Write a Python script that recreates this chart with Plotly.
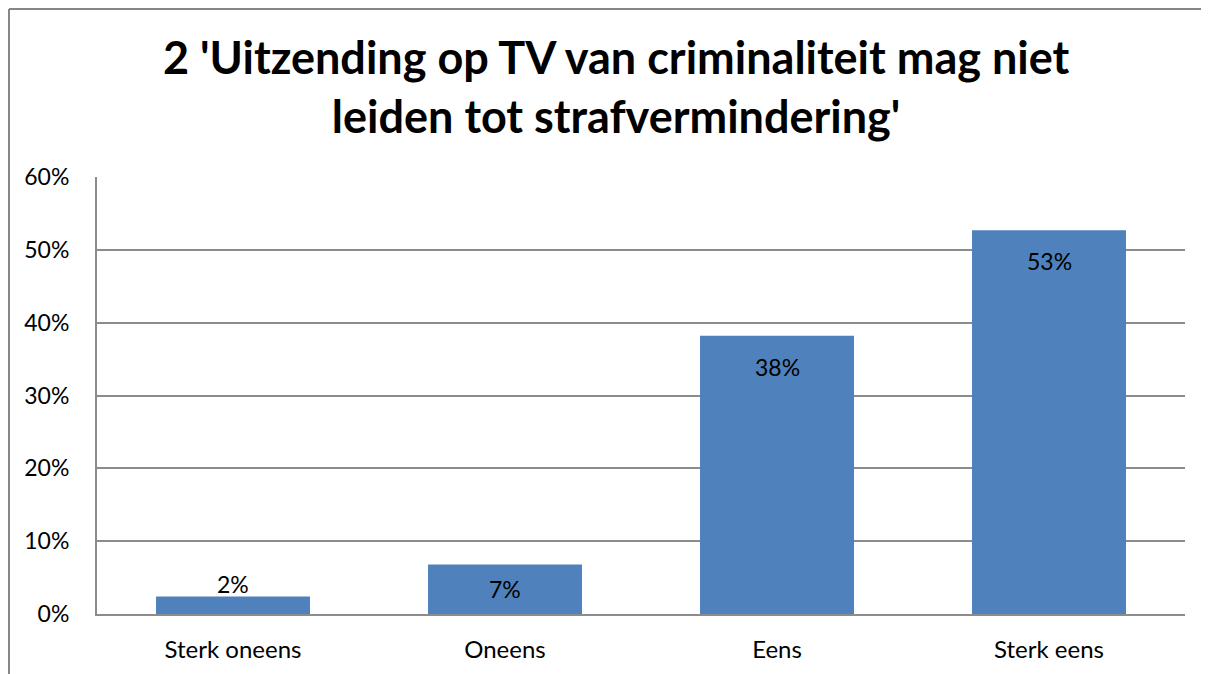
import plotly.graph_objects as go

categories = ["Sterk oneens", "Oneens", "Eens", "Sterk eens"]
shares = [2.4, 6.8, 38.2, 52.7]
labels = ["2%", "7%", "38%", "53%"]
tick_vals = [0, 10, 20, 30, 40, 50, 60]
tick_text = ["0%", "10%", "20%", "30%", "40%", "50%", "60%"]

FONT = "Lato"
GRID = "#8c8c8c"

fig = go.Figure()
fig.add_bar(
    x=categories,
    y=shares,
    marker_color="#4f81bd",
    marker_line_width=0,
    hoverinfo="skip",
)

# Excel-style "inside end" labels: near the top of tall bars, centred in
# short ones, and above the bar when it is too short to hold the text
for cat, val, lab in zip(categories, shares, labels):
    if val < 5:
        fig.add_annotation(x=cat, y=val, text=lab, showarrow=False, yanchor="bottom", yshift=-3,
                           font=dict(family=FONT, size=23, color="#000000"))
    else:
        fig.add_annotation(x=cat, y=max(val - 4.26, val / 2), text=lab, showarrow=False,
                           yanchor="middle", font=dict(family=FONT, size=23, color="#000000"))

# outer chart border (left and top only visible)
fig.add_shape(type="line", xref="paper", yref="paper", x0=-0.0809, x1=-0.0809, y0=1.3844, y1=-0.3,
              line=dict(color="#868686", width=2))
fig.add_shape(type="line", xref="paper", yref="paper", x0=-0.0809, x1=1.1, y0=1.3844, y1=1.3844,
              line=dict(color="#868686", width=2))

fig.update_layout(
    width=1209,
    height=674,
    margin=dict(l=89, r=32, t=169, b=68, autoexpand=False),
    paper_bgcolor="white",
    plot_bgcolor="white",
    showlegend=False,
    bargap=0.434,
    font=dict(family=FONT, size=23, color="#000000"),
    title=dict(
        text="<b>2 'Uitzending op TV van criminaliteit mag niet<br>leiden tot strafvermindering'</b>",
        x=0.503, xanchor="center", yref="container", y=1 - 66 / 674, yanchor="middle",
        font=dict(family=FONT, size=45, color="#000000"),
    ),
)
fig.update_xaxes(
    showline=True, linecolor=GRID, linewidth=2, automargin=False,
    ticks="", ticklabelstandoff=13, showgrid=False, tickfont_size=24,
)
fig.update_yaxes(
    range=[0, 60], tickvals=tick_vals, ticktext=tick_text, automargin=False,
    showgrid=True, gridcolor=GRID, gridwidth=1.5,
    showline=True, linecolor=GRID, linewidth=2,
    ticks="", ticklabelstandoff=21, zeroline=False,
)

fig.write_html("out.html")
